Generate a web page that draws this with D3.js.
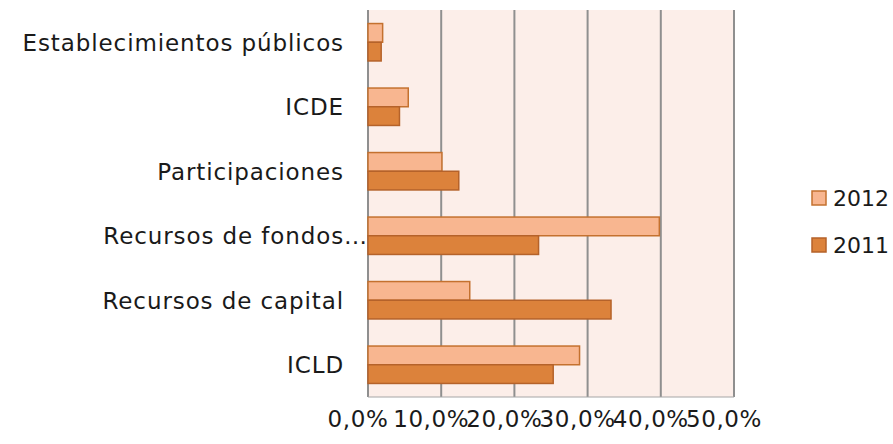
<!DOCTYPE html>
<html>
<head>
<meta charset="utf-8">
<script src="https://cdn.jsdelivr.net/npm/d3@7"></script>
<style>
  body { margin: 0; background: #fff; }
  text { font-family: "DejaVu Sans", sans-serif; fill: #1a1a1a; }
</style>
</head>
<body>
<div id="chart"></div>
<script>
const categories = ["Establecimientos públicos", "ICDE", "Participaciones", "Recursos de fondos…", "Recursos de capital", "ICLD"];
const series = ["2012", "2011"];
const values2012 = [2.0, 5.5, 10.1, 39.8, 13.9, 28.9];
const values2011 = [1.8, 4.3, 12.4, 23.3, 33.2, 25.3];
const xTicks = [0, 10, 20, 30, 40, 50];

const colors = { "2012": "#F8B690", "2011": "#DC823B" };
const strokes = { "2012": "#C4712F", "2011": "#B5622A" };

const width = 893, height = 444;
const plot = { left: 368, right: 734, top: 10, bottom: 397 };

const svg = d3.select("#chart").append("svg")
    .attr("width", width)
    .attr("height", height);

const x = d3.scaleLinear().domain([0, 50]).range([plot.left, plot.right]);
const y = d3.scaleBand().domain(categories).range([plot.top, plot.bottom])
    .paddingInner(0.42).paddingOuter(0.21);
const ySub = d3.scaleBand().domain(series).range([0, y.bandwidth()]);

// plot background
svg.append("rect")
    .attr("x", plot.left).attr("y", plot.top)
    .attr("width", plot.right - plot.left).attr("height", plot.bottom - plot.top)
    .attr("fill", "#FCEEE9");

// gridlines
svg.append("g").selectAll("line")
    .data(xTicks)
    .join("line")
    .attr("x1", d => x(d)).attr("x2", d => x(d))
    .attr("y1", plot.top).attr("y2", plot.bottom)
    .attr("stroke", "#8f8f8f")
    .attr("stroke-width", 2);

svg.append("line")
    .attr("x1", plot.left).attr("x2", plot.right)
    .attr("y1", plot.bottom).attr("y2", plot.bottom)
    .attr("stroke", "#a6a6a6").attr("stroke-width", 1);

// bars
const rows = categories.map((c, i) => ({ cat: c, "2012": values2012[i], "2011": values2011[i] }));
const groups = svg.append("g").selectAll("g")
    .data(rows)
    .join("g")
    .attr("transform", d => `translate(0,${y(d.cat)})`);

groups.selectAll("rect")
    .data(d => series.map(s => ({ s, v: d[s] })))
    .join("rect")
    .attr("x", x(0))
    .attr("y", d => ySub(d.s))
    .attr("width", d => x(d.v) - x(0))
    .attr("height", ySub.bandwidth())
    .attr("fill", d => colors[d.s])
    .attr("stroke", d => strokes[d.s])
    .attr("stroke-width", 1.5);

// category labels
svg.append("g").selectAll("text")
    .data(categories)
    .join("text")
    .attr("x", d => d.endsWith("…") ? 368 : 344)
    .attr("y", d => y(d) + y.bandwidth() / 2 + 8.5)
    .attr("text-anchor", "end")
    .style("font-size", "23px")
    .style("letter-spacing", "0.9px")
    .text(d => d);

// x tick labels
svg.append("g").selectAll("text")
    .data(xTicks)
    .join("text")
    .attr("x", d => x(d) - 10)
    .attr("y", 427)
    .attr("text-anchor", "middle")
    .style("font-size", "23px")
    .style("letter-spacing", "0.6px")
    .text(d => d3.format(".1f")(d).replace(".", ",") + "%");

// legend
const legend = svg.append("g").selectAll("g")
    .data(series)
    .join("g")
    .attr("transform", (d, i) => `translate(812,${191 + i * 47})`);

legend.append("rect")
    .attr("width", 14).attr("height", 14)
    .attr("fill", d => colors[d])
    .attr("stroke", d => strokes[d])
    .attr("stroke-width", 1.5);

legend.append("text")
    .attr("x", 21).attr("y", 15)
    .style("font-size", "22px")
    .text(d => d);
</script>
</body>
</html>
